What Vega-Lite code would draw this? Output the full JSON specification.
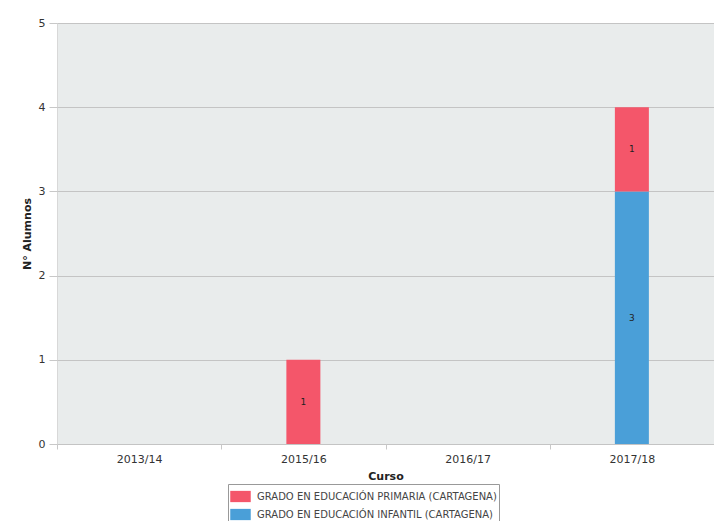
{
  "$schema": "https://vega.github.io/schema/vega-lite/v6.json",
  "width": 657,
  "height": 421,
  "autosize": "none",
  "padding": {"left": 57, "top": 23, "right": 0, "bottom": 77},
  "background": "white",
  "config": {
    "font": "DejaVu Sans",
    "view": {"fill": "#e9ecec", "stroke": "#d8d8d8"},
    "axis": {"labelFont": "DejaVu Sans", "titleFont": "DejaVu Sans"}
  },
  "data": {
    "values": [
      {"curso": "2015/16", "titulacion": "GRADO EN EDUCACIÓN PRIMARIA (CARTAGENA)", "orden": 2, "n": 1},
      {"curso": "2017/18", "titulacion": "GRADO EN EDUCACIÓN INFANTIL (CARTAGENA)", "orden": 1, "n": 3},
      {"curso": "2017/18", "titulacion": "GRADO EN EDUCACIÓN PRIMARIA (CARTAGENA)", "orden": 2, "n": 1}
    ]
  },
  "encoding": {
    "x": {
      "field": "curso",
      "type": "nominal",
      "scale": {"domain": ["2013/14", "2015/16", "2016/17", "2017/18"], "paddingInner": 0, "paddingOuter": 0},
      "axis": {
        "title": "Curso",
        "titleFontSize": 11,
        "titleFontWeight": "bold",
        "titleColor": "#222",
        "titlePadding": 6,
        "labelAngle": 0,
        "labelFontSize": 11,
        "labelColor": "#333",
        "labelPadding": 4,
        "tickBand": "extent",
        "tickSize": 5,
        "tickColor": "#c8c8c8",
        "domain": false,
        "grid": false
      }
    },
    "y": {
      "field": "n",
      "type": "quantitative",
      "stack": "zero",
      "scale": {"domain": [0, 5], "nice": false},
      "axis": {
        "title": "N° Alumnos",
        "titleFontSize": 11,
        "titleFontWeight": "bold",
        "titleColor": "#222",
        "titlePadding": 6,
        "values": [0, 1, 2, 3, 4, 5],
        "labelFontSize": 11,
        "labelColor": "#333",
        "labelPadding": 4,
        "tickSize": 8,
        "tickColor": "#c8c8c8",
        "gridColor": "#c4c4c4",
        "domain": false
      }
    },
    "order": {"field": "orden", "type": "quantitative"}
  },
  "layer": [
    {
      "mark": {"type": "bar", "width": 34},
      "encoding": {
        "color": {
          "field": "titulacion",
          "type": "nominal",
          "scale": {
            "domain": ["GRADO EN EDUCACIÓN PRIMARIA (CARTAGENA)", "GRADO EN EDUCACIÓN INFANTIL (CARTAGENA)"],
            "range": ["#f4566a", "#4a9fd8"]
          },
          "legend": {
            "title": null,
            "orient": "none",
            "legendX": 171,
            "legendY": 461,
            "direction": "vertical",
            "symbolType": "M-1,-0.55H1V0.55H-1Z",
            "symbolSize": 420,
            "symbolStrokeWidth": 0,
            "symbolOffset": 0,
            "labelFontSize": 10,
            "labelColor": "#444",
            "labelLimit": 0,
            "labelOffset": 6,
            "rowPadding": 1,
            "padding": 2,
            "strokeColor": "#999",
            "fillColor": "white"
          }
        }
      }
    },
    {
      "mark": {"type": "text", "fontSize": 9, "color": "#222"},
      "encoding": {
        "y": {"field": "n", "type": "quantitative", "stack": "zero", "bandPosition": 0.5},
        "text": {"field": "n", "type": "quantitative"}
      }
    }
  ]
}
